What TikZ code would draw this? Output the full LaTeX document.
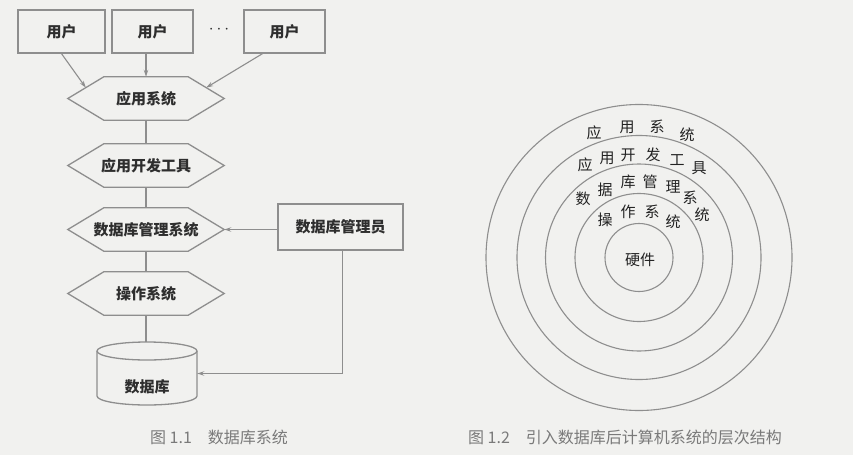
\documentclass[tikz,border=0pt]{standalone}
\usepackage{fontspec}
\setmainfont{Noto Sans CJK SC}
\usetikzlibrary{arrows.meta,calc}
\definecolor{bg}{HTML}{F1F1EF}
\definecolor{ln}{HTML}{8E8E8E}
\definecolor{tx}{HTML}{2E2E2E}
\definecolor{ctx}{HTML}{222222}
\definecolor{capc}{HTML}{7A7A7A}
\newcommand{\hexdraw}[1]{\draw[hexline] (#1.west) -- ([xshift=36pt]#1.north west) -- ([xshift=-36pt]#1.north east) -- (#1.east) -- ([xshift=-36pt]#1.south east) -- ([xshift=36pt]#1.south west) -- cycle;}
\begin{document}
\begin{tikzpicture}[x=1pt,y=-1pt,
  line/.style={draw=ln, line width=1.1pt},
  hexline/.style={draw=ln, line width=1.3pt},
  arr/.style={line, -{Stealth[length=7pt,width=4.5pt]}},
  lbl/.style={font=\fontsize{15}{15}\selectfont\bfseries, text=tx, inner sep=0pt},
  box/.style={lbl, draw=ln, line width=1.3pt, minimum height=43pt},
  hexn/.style={lbl, minimum width=156pt, minimum height=43pt},
  ctext/.style={font=\fontsize{15}{15}\selectfont, text=ctx, inner sep=0pt},
  captext/.style={font=\fontsize{16}{16}\selectfont, text=capc, inner sep=0pt}]
\fill[bg] (0,0) rectangle (853,455);
\useasboundingbox (0,0) rectangle (853,455);

% users
\node[box, minimum width=87pt] (u1) at (61.5,31.5) {用户};
\node[box, minimum width=81pt] (u2) at (152.5,31.5) {用户};
\node[box, minimum width=81pt] (u3) at (284.5,31.5) {用户};
\node[text=tx, inner sep=0pt, font=\fontsize{16}{16}\selectfont] (dots) at (219,30) {$\cdots$};

% hexagons
\node[hexn] (app) at (146,98.5) {应用系统}; \hexdraw{app}
\node[hexn] (dev) at (146,165.5) {应用开发工具}; \hexdraw{dev}
\node[hexn] (dbms) at (146,229.5) {数据库管理系统}; \hexdraw{dbms}
\node[hexn] (os) at (146,293.5) {操作系统}; \hexdraw{os}

% database cylinder
\node[minimum width=100pt, minimum height=63pt, inner sep=0pt] (db) at (147,373.5) {};
\draw[hexline] (147,351) ellipse [x radius=50, y radius=9];
\draw[hexline] (97,351) -- (97,396) arc[start angle=180, end angle=0, x radius=50, y radius=9] -- (197,351);
\node[lbl] (dbl) at (147,387) {数据库};

% DBA
\node[box, minimum width=125pt, minimum height=46pt] (dba) at (340.5,227) {数据库管理员};

% connectors
\coordinate (appL) at ($(app.west)!0.5!([xshift=36pt]app.north west)$);
\coordinate (appR) at ($(app.east)!0.5!([xshift=-36pt]app.north east)$);
\draw[arr] (u1.south) -- (appL);
\draw[arr] (u2.south -| app.north) -- (app.north);
\draw[arr] ([xshift=-22pt]u3.south) -- (appR);
\draw[line] (app.south) -- (dev.north);
\draw[line] (dev.south) -- (dbms.north);
\draw[line] (dbms.south) -- (os.north);
\draw[line] (os.south) -- (os.south |- db.north);
\draw[arr] (dba.west |- dbms.east) -- (dbms.east);
\draw[arr] ([xshift=2pt]dba.south) |- (db.east);

% concentric circles
\coordinate (cc) at (639,257.5);
\foreach \r in {153,122,93.5,64,34} \draw[line] (cc) circle[radius=\r];
\node[ctext] (hw) at (640,260) {硬件};
\foreach \t/\x/\y [count=\i] in {应/594/133, 用/627/127, 系/657/127, 统/687/135,
  应/585/165, 用/607/158, 开/628/155, 发/653/155, 工/677/160, 具/699/168,
  数/583/199, 据/605/190, 库/628/182, 管/650/182, 理/673/187, 系/690/198, 统/702/215,
  操/605/220, 作/628/212, 系/652/212, 统/673/222}
  \node[ctext] (ch\i) at (\x,\y) {\t};

% captions
\node[captext] (cap1) at (219,437) {图 1.1\hspace{1em}数据库系统};
\node[captext] (cap2) at (625,437) {图 1.2\hspace{1em}引入数据库后计算机系统的层次结构};
\end{tikzpicture}
\end{document}
